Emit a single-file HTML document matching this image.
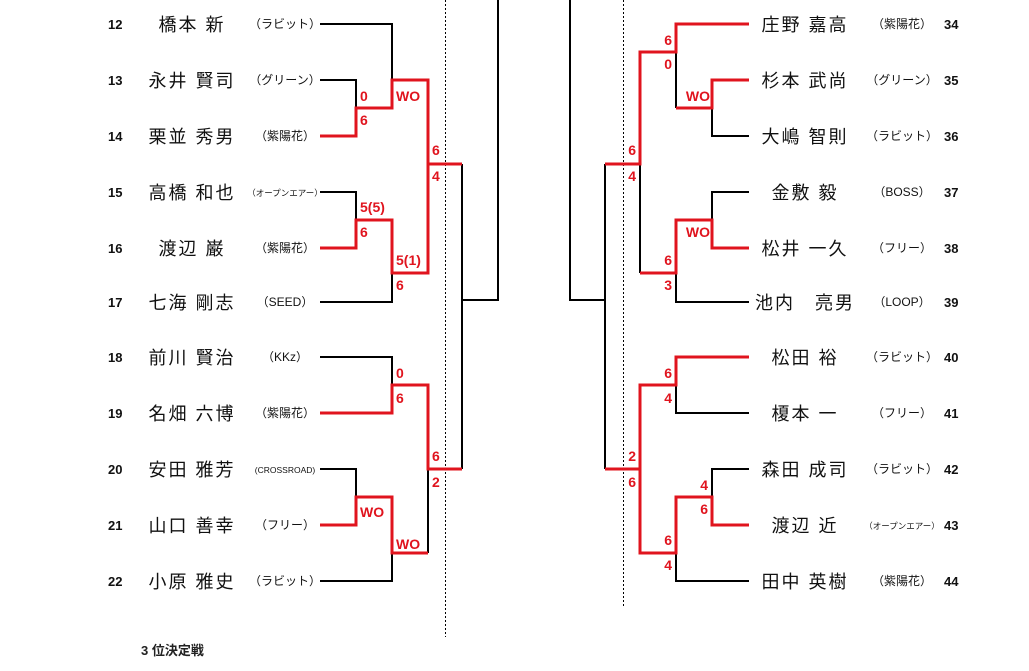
<!DOCTYPE html>
<html><head><meta charset="utf-8"><style>
html,body{margin:0;padding:0;background:#fff;}
svg{display:block;}
.nm{font-family:"Liberation Sans","Noto Sans CJK JP",sans-serif;font-size:18px;fill:#111;text-anchor:middle;letter-spacing:2px;}
.cl{font-family:"Liberation Sans","Noto Sans CJK JP",sans-serif;font-size:12px;fill:#111;text-anchor:middle;}
.cs{font-family:"Liberation Sans","Noto Sans CJK JP",sans-serif;font-size:8.5px;fill:#111;text-anchor:middle;}
.no{font-family:"Liberation Sans",sans-serif;font-size:13px;font-weight:bold;fill:#111;}
.sc{font-family:"Liberation Sans",sans-serif;font-size:14px;font-weight:bold;fill:#e0141e;}
.e{text-anchor:end;}
.b{stroke:#000;stroke-width:2;fill:none;}
.r{stroke:#e0141e;stroke-width:3;fill:none;}
</style></head><body>
<svg width="1029" height="671" xmlns="http://www.w3.org/2000/svg">
<line x1="445.5" y1="0" x2="445.5" y2="637" stroke="#000" stroke-width="1" stroke-dasharray="2,2"/>
<line x1="623.5" y1="0" x2="623.5" y2="607" stroke="#000" stroke-width="1" stroke-dasharray="2,2"/>

<path class="b" d="M320 24H392V80 M320 80H356V108 M392 273V302H320 M320 192H356V220 M462 164V469 M462 300H498V0 M320 357H392V385 M320 469H356V497 M392 553V581H320 M428 469V553"/>
<path class="r" d="M320 136H356V108H392V80H428V164H462 M320 248H356V220H392V273H428V164 M320 413H392V385H428V469H462 M320 525H356V497H392V553H428"/>

<path class="b" d="M676 52V108 M712 108V136H749 M640 164V273 M749 192H712V220 M676 273V302H749 M605 164V469 M605 300H570V0 M676 385V413H749 M749 469H712V497 M676 553V581H749 M640 385V469"/>
<path class="r" d="M749 24H676V52H640V164H605 M749 80H712V108H676 M749 248H712V220H676V273H640 M749 357H676V385H640V469H605 M749 525H712V497H676V553H640V469"/>

<text class="sc" x="360" y="101">0</text>
<text class="sc" x="360" y="125">6</text>
<text class="sc" x="396" y="101">WO</text>
<text class="sc" x="432" y="155">6</text>
<text class="sc" x="432" y="181">4</text>
<text class="sc" x="360" y="212">5(5)</text>
<text class="sc" x="360" y="237">6</text>
<text class="sc" x="396" y="265">5(1)</text>
<text class="sc" x="396" y="290">6</text>
<text class="sc" x="396" y="378">0</text>
<text class="sc" x="396" y="403">6</text>
<text class="sc" x="432" y="461">6</text>
<text class="sc" x="432" y="487">2</text>
<text class="sc" x="360" y="517">WO</text>
<text class="sc" x="396" y="549">WO</text>

<text class="sc e" x="672" y="45">6</text>
<text class="sc e" x="672" y="69">0</text>
<text class="sc e" x="710" y="101">WO</text>
<text class="sc e" x="636" y="155">6</text>
<text class="sc e" x="636" y="181">4</text>
<text class="sc e" x="710" y="237">WO</text>
<text class="sc e" x="672" y="265">6</text>
<text class="sc e" x="672" y="290">3</text>
<text class="sc e" x="672" y="378">6</text>
<text class="sc e" x="672" y="403">4</text>
<text class="sc e" x="636" y="461">2</text>
<text class="sc e" x="636" y="487">6</text>
<text class="sc e" x="708" y="490">4</text>
<text class="sc e" x="708" y="514">6</text>
<text class="sc e" x="672" y="545">6</text>
<text class="sc e" x="672" y="570">4</text>

<g>
<text class="no" x="108" y="29">12</text><text class="nm" x="192" y="31">橋本 新</text><text class="cl" x="285" y="28">（ラビット）</text>
<text class="no" x="108" y="85">13</text><text class="nm" x="192" y="87">永井 賢司</text><text class="cl" x="285" y="84">（グリーン）</text>
<text class="no" x="108" y="141">14</text><text class="nm" x="192" y="143">栗並 秀男</text><text class="cl" x="285" y="140">（紫陽花）</text>
<text class="no" x="108" y="197">15</text><text class="nm" x="192" y="199">高橋 和也</text><text class="cs" x="285" y="196">（オープンエアー）</text>
<text class="no" x="108" y="253">16</text><text class="nm" x="192" y="255">渡辺 巌</text><text class="cl" x="285" y="252">（紫陽花）</text>
<text class="no" x="108" y="307">17</text><text class="nm" x="192" y="309">七海 剛志</text><text class="cl" x="285" y="306">（SEED）</text>
<text class="no" x="108" y="362">18</text><text class="nm" x="192" y="364">前川 賢治</text><text class="cl" x="285" y="361">（KKz）</text>
<text class="no" x="108" y="418">19</text><text class="nm" x="192" y="420">名畑 六博</text><text class="cl" x="285" y="417">（紫陽花）</text>
<text class="no" x="108" y="474">20</text><text class="nm" x="192" y="476">安田 雅芳</text><text class="cs" x="285" y="473">(CROSSROAD)</text>
<text class="no" x="108" y="530">21</text><text class="nm" x="192" y="532">山口 善幸</text><text class="cl" x="285" y="529">（フリー）</text>
<text class="no" x="108" y="586">22</text><text class="nm" x="192" y="588">小原 雅史</text><text class="cl" x="285" y="585">（ラビット）</text>
</g>

<g>
<text class="nm" x="805" y="31">庄野 嘉高</text><text class="cl" x="902" y="28">（紫陽花）</text><text class="no" x="944" y="29">34</text>
<text class="nm" x="805" y="87">杉本 武尚</text><text class="cl" x="902" y="84">（グリーン）</text><text class="no" x="944" y="85">35</text>
<text class="nm" x="805" y="143">大嶋 智則</text><text class="cl" x="902" y="140">（ラビット）</text><text class="no" x="944" y="141">36</text>
<text class="nm" x="805" y="199">金敷 毅</text><text class="cl" x="902" y="196">（BOSS）</text><text class="no" x="944" y="197">37</text>
<text class="nm" x="805" y="255">松井 一久</text><text class="cl" x="902" y="252">（フリー）</text><text class="no" x="944" y="253">38</text>
<text class="nm" x="805" y="309">池内　亮男</text><text class="cl" x="902" y="306">（LOOP）</text><text class="no" x="944" y="307">39</text>
<text class="nm" x="805" y="364">松田 裕</text><text class="cl" x="902" y="361">（ラビット）</text><text class="no" x="944" y="362">40</text>
<text class="nm" x="805" y="420">榎本 一</text><text class="cl" x="902" y="417">（フリー）</text><text class="no" x="944" y="418">41</text>
<text class="nm" x="805" y="476">森田 成司</text><text class="cl" x="902" y="473">（ラビット）</text><text class="no" x="944" y="474">42</text>
<text class="nm" x="805" y="532">渡辺 近</text><text class="cs" x="902" y="529">（オープンエアー）</text><text class="no" x="944" y="530">43</text>
<text class="nm" x="805" y="588">田中 英樹</text><text class="cl" x="902" y="585">（紫陽花）</text><text class="no" x="944" y="586">44</text>
</g>

<text x="141" y="655" style="font-family:'Liberation Sans','Noto Sans CJK JP',sans-serif;font-size:13px;font-weight:bold;fill:#222;">3 位決定戦</text>
</svg>
</body></html>
